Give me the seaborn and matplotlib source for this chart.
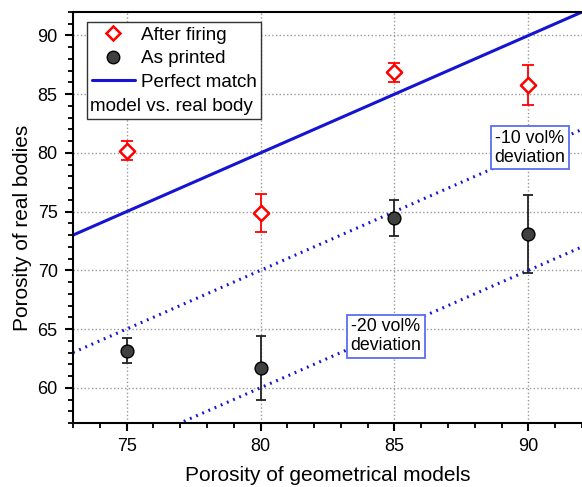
import matplotlib
matplotlib.use("Agg")
import matplotlib.pyplot as plt
import seaborn as sns
import pandas as pd
from matplotlib.lines import Line2D
from matplotlib.ticker import MultipleLocator

# data
model_porosity = [75, 80, 85, 90]
after_firing = [80.2, 74.9, 86.85, 85.8]
after_firing_err = [0.8, 1.6, 0.8, 1.7]
as_printed = [63.15, 61.7, 74.45, 73.1]
as_printed_err = [1.05, 2.7, 1.5, 3.3]
deviations = [0, -10, -20]
x_range = [73, 92]

sns.set_style("ticks")
plt.rcParams["font.family"] = ["Liberation Sans", "DejaVu Sans"]
plt.rcParams.update({"text.color": "black", "axes.labelcolor": "black",
                     "xtick.color": "black", "ytick.color": "black"})

fig = plt.figure(figsize=(5.82, 4.87), dpi=100)
ax = fig.add_axes([73 / 582, 1 - 423 / 487, 509 / 582, 411 / 487])

blue = "#1414d2"

# reference lines: perfect match and deviations
lines_df = pd.DataFrame(
    [(x, x + d, d) for d in deviations for x in x_range],
    columns=["x", "y", "dev"],
)
sns.lineplot(data=lines_df[lines_df.dev == 0], x="x", y="y", color=blue,
             linewidth=2.2, ax=ax, legend=False)
for d in deviations[1:]:
    sns.lineplot(data=lines_df[lines_df.dev == d], x="x", y="y", color=blue,
                 linewidth=2.2, linestyle=(0, (0.6, 1.6)), ax=ax, legend=False)

# error bars
ax.errorbar(model_porosity, after_firing, yerr=after_firing_err, fmt="none",
            ecolor="red", elinewidth=1.3, capsize=4, capthick=1.3, zorder=3)
ax.errorbar(model_porosity, as_printed, yerr=as_printed_err, fmt="none",
            ecolor="#222222", elinewidth=1.3, capsize=3.6, capthick=1.3, zorder=3)

# points
sns.scatterplot(x=model_porosity, y=after_firing, marker="D", s=60,
                facecolor="white", edgecolor="red", linewidth=1.8, ax=ax,
                zorder=4)
sns.scatterplot(x=model_porosity, y=as_printed, marker="o", s=85,
                color="#404040", edgecolor="black", linewidth=1.0, ax=ax,
                zorder=4)

ax.set_xlim(73, 92)
ax.set_ylim(57, 92)
ax.xaxis.set_major_locator(MultipleLocator(5))
ax.xaxis.set_minor_locator(MultipleLocator(1))
ax.yaxis.set_major_locator(MultipleLocator(5))
ax.yaxis.set_minor_locator(MultipleLocator(1))
ax.tick_params(which="major", direction="out", length=6, width=1.5,
               labelsize=13, color="black", labelcolor="black", pad=5)
ax.tick_params(which="minor", direction="out", length=3.5, width=1.3,
               color="black")
ax.grid(True, which="major", linestyle=":", color="#999999", linewidth=1)
for side in ["left", "bottom", "top"]:
    ax.spines[side].set_linewidth(1.5)
    ax.spines[side].set_color("black")
ax.spines["right"].set_visible(False)

ax.set_xlabel("Porosity of geometrical models", fontsize=15, labelpad=8)
ax.set_ylabel("Porosity of real bodies", fontsize=15)
ax.yaxis.set_label_coords(-0.08, 0.474)

# deviation labels
box = dict(boxstyle="square,pad=0.2", facecolor="white",
           edgecolor="#5a6ef0", linewidth=1.3)
ax.text(90.05, 80.45, "-10 vol%\ndeviation", fontsize=12.8, ha="center",
        va="center", bbox=box, zorder=5, linespacing=1.15)
ax.text(84.68, 64.4, "-20 vol%\ndeviation", fontsize=12.8, ha="center",
        va="center", bbox=box, zorder=5, linespacing=1.15)

# legend
handles = [
    Line2D([], [], marker="D", linestyle="none", markersize=7,
           markerfacecolor="white", markeredgecolor="red", markeredgewidth=1.8),
    Line2D([], [], marker="o", linestyle="none", markersize=9,
           markerfacecolor="#404040", markeredgecolor="black"),
    Line2D([], [], color=blue, linewidth=2.2),
    Line2D([], [], linestyle="none"),
]
labels = ["After firing", "As printed", "Perfect match", " "]
leg = ax.legend(handles, labels, loc="upper left",
                bbox_to_anchor=(0.0275, 0.976), borderaxespad=0,
                fontsize=13.6, frameon=True, fancybox=False,
                edgecolor="#333333", framealpha=1, handlelength=2.3,
                handletextpad=0.3, borderpad=0.25, labelspacing=0.33)
leg.get_frame().set_linewidth(1.0)
ax.text(0.033, 0.769, "model vs. real body", transform=ax.transAxes,
        fontsize=13.6, ha="left", va="center", zorder=10)

fig.savefig("out.png", dpi=100)
